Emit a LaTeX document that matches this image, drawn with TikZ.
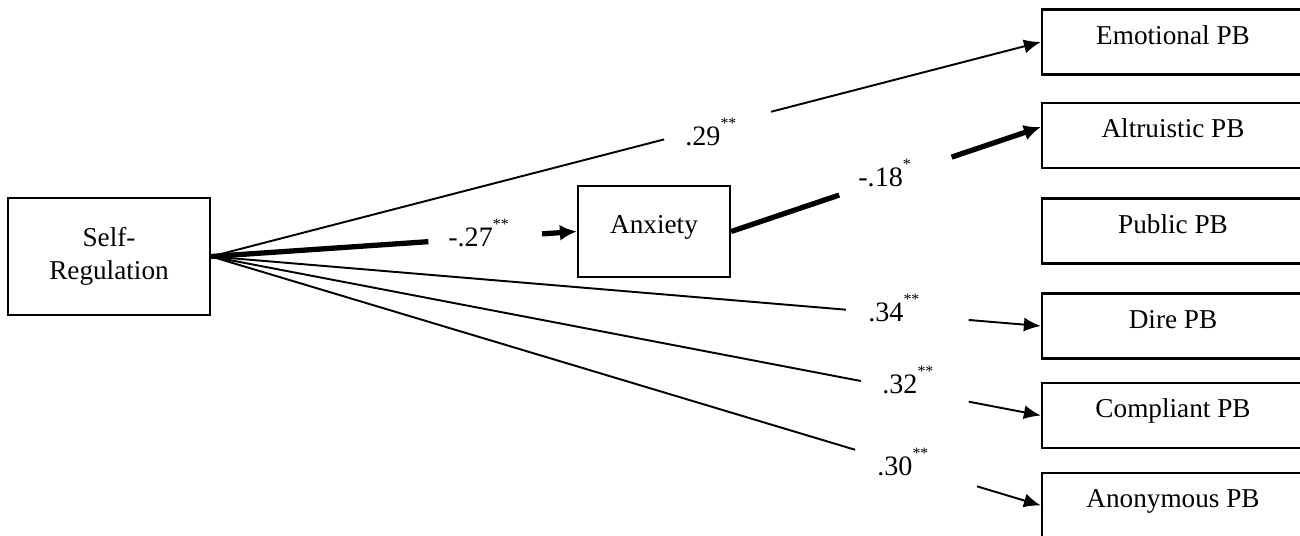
\documentclass[tikz,border=0pt]{standalone}
\usepackage{fontspec}
\setmainfont{Liberation Serif}
\usetikzlibrary{arrows.meta}
\newcommand{\stars}[1]{\raisebox{9.5pt}{\fontsize{9}{9}\selectfont #1}}
\begin{document}
\begin{tikzpicture}[x=0.02cm, y=-0.02cm,
    box/.style={draw, line width=1.3pt, inner sep=0pt, font=\fontsize{15.5}{18.5}\selectfont},
    onebox/.style={box, text height=10.5pt, text depth=8.2pt},
    rel/.style={line width=1.1pt, -{Latex[length=0.34cm,width=0.28cm]}},
    relthick/.style={line width=3pt, -{Latex[length=0.34cm,width=0.32cm]}},
    coef/.style={anchor=base west, inner sep=0pt, font=\fontsize{16}{16}\selectfont}]
      \useasboundingbox (0,0) rectangle (1300,535);
      \clip (0,0) rectangle (1300,535);
      \node [box, align=center, minimum width=4.04cm, minimum height=2.34cm] (sr) at (109,256.5) {Self-\\Regulation};
      \node [onebox, minimum width=3.04cm, minimum height=1.82cm] (anx) at (654,231.5) {Anxiety};
      \foreach \name/\yc/\txt in {emo/42/Emotional PB, alt/135.5/Altruistic PB, pub/231/Public PB, dire/326/Dire PB, comp/415.5/Compliant PB, anon/505.5/Anonymous PB}{
      \node [onebox, minimum width=5.24cm, minimum height=1.3cm] (\name) at (1173,\yc) {\txt}; }
      % direct paths, broken where the coefficient sits
      \foreach \to/\a/\b in {emo/0.546/0.675, dire/0.765/0.913, comp/0.783/0.913, anon/0.776/0.923}{
      \path (sr.east) -- (\to.west) coordinate [pos=\a] (p1) coordinate [pos=\b] (p2);
      \draw [rel, -] (sr.east) -- (p1);
      \draw [rel] (p2) -- (\to.west); }
      % mediation through anxiety
      \path (sr.east) -- (anx.west) coordinate [pos=0.594] (m1) coordinate [pos=0.905] (m2);
      \draw [relthick, -] (sr.east) -- (m1);
      \draw [relthick] (m2) -- (anx.west);
      \path (anx.east) -- ([yshift=0.17cm]alt.west) coordinate [pos=0.349] (m3) coordinate [pos=0.712] (m4);
      \draw [relthick, -] (anx.east) -- (m3);
      \draw [relthick] (m4) -- ([yshift=0.17cm]alt.west);
      \node [coef] (c29) at (685,145) {.29\stars{**}};
      \node [coef] (c27) at (448,246) {-.27\stars{**}};
      \node [coef] (c18) at (858,186) {-.18\stars{*}};
      \node [coef] (c34) at (868,321) {.34\stars{**}};
      \node [coef] (c32) at (882,393) {.32\stars{**}};
      \node [coef] (c30) at (877,475) {.30\stars{**}};
\end{tikzpicture}
\end{document}
